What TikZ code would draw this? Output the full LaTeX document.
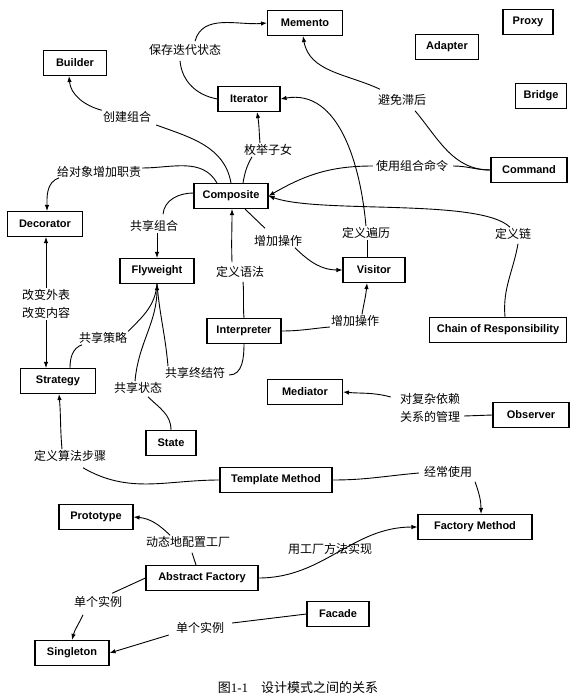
\documentclass[tikz,border=0pt]{standalone}
\usepackage{fontspec}
\setsansfont{Liberation Sans}
\setmainfont{Liberation Serif}
\newfontfamily\cjk{Noto Sans CJK SC}
\usetikzlibrary{arrows.meta}
\begin{document}
\begin{tikzpicture}[x=1pt,y=-1pt,
  box/.style={draw, line width=1.1pt, minimum height=25pt, inner sep=2pt, font=\sffamily\bfseries\fontsize{11}{12}\selectfont},
  lbl/.style={inner sep=1pt, font=\cjk\fontsize{12}{14}\selectfont},
  lbltwo/.style={lbl, align=center, font=\cjk\fontsize{12}{18.5}\selectfont},
  con/.style={line width=0.9pt},
  arr/.style={con, -{Latex[length=6pt,width=4.5pt]}}]
\useasboundingbox (0,0) rectangle (584,700);
% boxes
\node[box, minimum width=75pt] (mem) at (305,23) {Memento};
\node[box, minimum width=50pt] (proxy) at (528,22) {Proxy};
\node[box, minimum width=63pt] (adapt) at (447,47) {Adapter};
\node[box, minimum width=63pt] (bld) at (75,63) {Builder};
\node[box, minimum width=62pt] (iter) at (249,99) {Iterator};
\node[box, minimum width=51pt] (bridge) at (541,96) {Bridge};
\node[box, minimum width=76pt] (cmd) at (529,170) {Command};
\node[box, minimum width=74pt] (comp) at (231,196) {Composite};
\node[box, minimum width=75pt] (dec) at (45,224) {Decorator};
\node[box, minimum width=74pt] (fly) at (157,271) {Flyweight};
\node[box, minimum width=74pt] (interp) at (244,331) {Interpreter};
\node[box, minimum width=62pt] (vis) at (374,270) {Visitor};
\node[box, minimum width=137pt] (cor) at (498,330) {Chain of Responsibility};
\node[box, minimum width=75pt] (strat) at (58,381) {Strategy};
\node[box, minimum width=50pt] (state) at (171,443) {State};
\node[box, minimum width=75pt] (med) at (305,392) {Mediator};
\node[box, minimum width=76pt] (obs) at (531,415) {Observer};
\node[box, minimum width=112pt] (tm) at (276,480) {Template Method};
\node[box, minimum width=74pt] (proto) at (96,517) {Prototype};
\node[box, minimum width=114pt] (fm) at (475,527) {Factory Method};
\node[box, minimum width=112pt] (af) at (202,578) {Abstract Factory};
\node[box, minimum width=62pt] (fac) at (338,614) {Facade};
\node[box, minimum width=74pt] (sing) at (72,653) {Singleton};
% labels
\node[lbl] (l1) at (185,50) {保存迭代状态};
\node[lbl] (l2) at (402,100) {避免滞后};
\node[lbl] (l3) at (127,117) {创建组合};
\node[lbl] (l4) at (268,150) {枚举子女};
\node[lbl] (l5) at (99,172) {给对象增加职责};
\node[lbl] (l6) at (412,166) {使用组合命令};
\node[lbl] (l7) at (513,234) {定义链};
\node[lbl] (l8) at (366,233) {定义遍历};
\node[lbl] (l9) at (278,241) {增加操作};
\node[lbl] (l10) at (154,226) {共享组合};
\node[lbl] (l11) at (240,272) {定义语法};
\node[lbl] (l12) at (355,321) {增加操作};
\node[lbltwo] (l13) at (46,304) {改变外表\\改变内容};
\node[lbl] (l14) at (103,338) {共享策略};
\node[lbl] (l15) at (138,388) {共享状态};
\node[lbl] (l16) at (195,373) {共享终结符};
\node[lbl] (l17) at (70,456) {定义算法步骤};
\node[lbltwo] (l18) at (430,408) {对复杂依赖\\关系的管理};
\node[lbl] (l19) at (448,472) {经常使用};
\node[lbl] (l20) at (188,542) {动态地配置工厂};
\node[lbl] (l21) at (330,549) {用工厂方法实现};
\node[lbl] (l22) at (98,602) {单个实例};
\node[lbl] (l23) at (200,628) {单个实例};
\node[inner sep=1pt, font=\fontsize{13}{15}\selectfont] (cap) at (298,688) {{\cjk 图}1-1\hspace{1em}{\cjk 设计模式之间的关系}};
% connectors
\draw[con] (iter.west) to[out=170,in=-85] ([xshift=-5pt,yshift=-4pt]l1.south);
\draw[arr] ([xshift=10pt,yshift=2pt]l1.north) to[out=75,in=185] (mem.west);
\draw[con] (cmd.west) to[out=180,in=-50] ([xshift=13pt,yshift=-4pt]l2.south);
\draw[arr] ([xshift=-22pt,yshift=4pt]l2.north) to[out=155,in=-80] ([xshift=-2pt]mem.south);
\draw[con] (comp.north) to[out=100,in=-20] ([xshift=4pt,yshift=-8pt]l3.east);
\draw[arr] (l3.north west) to[out=165,in=-85] ([xshift=-6pt]bld.south);
\draw[con] ([xshift=12pt]comp.north) to[out=80,in=-120] ([xshift=-16pt]l4.south);
\draw[arr] ([xshift=-8pt]l4.north) to[out=95,in=-80] ([xshift=8pt]iter.south);
\draw[con] ([yshift=4pt]l5.east) to[out=0,in=120] ([xshift=-14pt]comp.north);
\draw[arr] ([xshift=-40pt,yshift=1pt]l5.south) to[out=200,in=90] ([xshift=2pt]dec.north);
\draw[con] (cmd.west) to[out=180,in=0] ([xshift=4pt]l6.east);
\draw[arr] ([xshift=-2pt]l6.west) to[out=180,in=30] (comp.east);
\draw[con] ([xshift=7pt]cor.north) to[out=95,in=-100] ([xshift=5pt,yshift=-3pt]l7.south);
\draw[arr] ([xshift=-3pt]l7.north) .. controls (480,198) and (320,214) .. (comp.east);
\draw[con] ([xshift=-7pt]vis.north) -- ([xshift=1pt]l8.south);
\draw[arr] (l8.north) to[out=95,in=10] (iter.east);
\draw[con] ([xshift=14pt]comp.south) -- ([xshift=-13pt,yshift=6pt]l9.north);
\draw[arr] ([xshift=17pt]l9.south) to[out=-45,in=180] (vis.west);
\draw[con] ([yshift=3pt]comp.west) to[out=180,in=85] ([xshift=9pt,yshift=5pt]l10.north);
\draw[arr] ([xshift=3pt]l10.south) -- (fly.north);
\draw[con] (interp.north) to[out=95,in=-85] ([xshift=3pt,yshift=-3pt]l11.south);
\draw[arr] ([xshift=-8pt,yshift=3pt]l11.north) to[out=92,in=-90] ([xshift=1pt]comp.south);
\draw[con] (interp.east) to[out=0,in=185] ([yshift=-6pt]l12.west);
\draw[arr] ([xshift=7pt]l12.north) to[out=80,in=-95] ([xshift=-7pt]vis.south);
\draw[arr] (l13.north) -- ([xshift=1pt]dec.south);
\draw[arr] (l13.south) -- ([xshift=-12pt]strat.north);
\draw[con] ([xshift=12pt]strat.north) to[out=90,in=-160] ([xshift=-21pt]l14.south);
\draw[con] (l14.north east) to[out=45,in=-95] (fly.south);
\draw[con] (state.north) to[out=90,in=-45] ([xshift=10pt,yshift=-2pt]l15.south);
\draw[arr] ([xshift=-3pt]l15.north) to[out=85,in=-90] (fly.south);
\draw[con] (interp.south) to[out=-90,in=0] ([xshift=3pt,yshift=-2pt]l16.east);
\draw[con] ([xshift=-27pt]l16.north) to[out=95,in=-85] (fly.south);
\draw[con] (tm.west) to[out=180,in=-30] ([xshift=13pt,yshift=-5pt]l17.south);
\draw[arr] ([xshift=-8pt]l17.north) to[out=95,in=-85] ([xshift=1pt]strat.south);
\draw[con] (obs.west) -- ([xshift=3pt,yshift=-8pt]l18.east);
\draw[arr] ([xshift=-8pt,yshift=11pt]l18.west) to[out=165,in=-5] (med.east);
\draw[con] (tm.east) to[out=0,in=185] ([xshift=-4pt,yshift=-1pt]l19.west);
\draw[arr] ([xshift=27pt,yshift=-3pt]l19.south) to[out=-70,in=90] ([xshift=6pt]fm.north);
\draw[con] ([xshift=-6pt]af.north) -- ([xshift=4pt,yshift=-4pt]l20.south);
\draw[arr] ([xshift=-18pt]l20.north) to[out=135,in=-5] (proto.east);
\draw[arr] (af.east) to[out=0,in=180] (fm.west);
\draw[con] (af.west) -- ([xshift=-11pt,yshift=2pt]l22.north east);
\draw[arr] ([xshift=-15pt,yshift=-6pt]l22.south) to[out=-115,in=75] (sing.north);
\draw[con] (fac.west) -- ([xshift=7pt,yshift=5pt]l23.east);
\draw[arr] ([xshift=-6pt,yshift=-7pt]l23.west) -- (sing.east);
\end{tikzpicture}
\end{document}
